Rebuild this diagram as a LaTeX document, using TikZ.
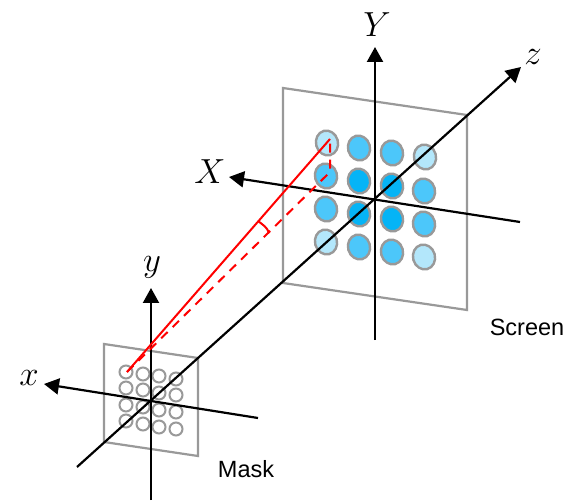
\documentclass[tikz,border=0pt]{standalone}
\usepackage{fontspec}
\setsansfont{Liberation Sans}
\usetikzlibrary{arrows.meta}
\definecolor{dotA}{HTML}{B3E7FB}
\definecolor{dotB}{HTML}{4CC7FA}
\definecolor{dotC}{HTML}{05B4F6}
\definecolor{frameG}{HTML}{999999}
\newcommand{\biglab}[1]{\scalebox{1.4}{$#1$}}
\begin{document}
\begin{tikzpicture}[x=1pt,y=-1pt,
 axis/.style={line width=2.2pt,-{Triangle[length=15pt,width=16pt]}},
 planeedge/.style={draw=frameG,line width=2.2pt},
 dot/.style={draw=frameG,line width=2.4pt},
 maskdot/.style={draw=frameG,line width=2pt,circle,minimum size=13pt,inner sep=0pt},
 ray/.style={red,line width=2pt},
 lab/.style={font=\sffamily\fontsize{23.5}{28}\selectfont},
 mathlab/.style={font=\fontsize{24.88}{30}\selectfont}]
\useasboundingbox (0,0) rectangle (567,502);
\fill[white] (0,0) rectangle (567,502);
% screen
\draw[planeedge] (283,88) -- (467,115) -- (467,310) -- (283,283) -- cycle;
\foreach \x/\y/\c in {327/143/dotA,359/148/dotB,392/153/dotB,425/157/dotA,
326/176/dotB,359/181/dotC,392/186/dotC,424/191/dotB,
326/209/dotB,359/214/dotC,392/219/dotC,424/224/dotB,
326/242/dotA,359/247/dotB,392/252/dotB,424/257/dotA}
  \filldraw[dot,fill=\c,rotate around={15:(\x,\y)}] (\x,\y) ellipse [x radius=11pt,y radius=12.5pt];
% mask
\draw[planeedge] (104,344) -- (198,358) -- (198,456) -- (104,442) -- cycle;
\foreach \x/\y in {126/372,143/374,159/376,176/379,126/388,143/390,159/393,176/395,
126/405,143/407,159/410,176/412,126/421,143/424,159/427,176/429}
  \node[maskdot] at (\x,\y) {};
% axes
\coordinate (Ys) at (375,340); \coordinate (Ye) at (375,47);
\coordinate (Xs) at (520,222); \coordinate (Xe) at (229,177);
\coordinate (zs) at (77,467);  \coordinate (ze) at (521,67);
\coordinate (ys) at (151,500); \coordinate (ye) at (151,288);
\coordinate (xs) at (258,418); \coordinate (xe) at (44,384);
\draw[axis] (Ys) -- (Ye);
\draw[axis] (Xs) -- (Xe);
\draw[axis] (zs) -- (ze);
\draw[axis] (ys) -- (ye);
\draw[axis] (xs) -- (xe);
% rays
\coordinate (m) at (127,372);
\coordinate (t) at (330,139);
\coordinate (b) at (330,172);
\draw[ray] (m) -- (t);
\draw[ray,dash pattern=on 9pt off 7pt,rounded corners=3pt] (m) -- (b) -- (t);
\draw[ray] (258,221) .. controls (263,225) and (267,227) .. (269,233);
% labels
\node[mathlab] (Yl) at (377,25) {\biglab{Y}};
\node[mathlab] (Xl) at (210,172) {\biglab{X}};
\node[mathlab] (zl) at (533,57) {\biglab{z}};
\node[mathlab] (yl) at (152,267) {\biglab{y}};
\node[mathlab] (xl) at (29,378) {\biglab{x}};
\node[lab] (sl) at (527,327) {Screen};
\node[lab] (ml) at (246,469) {Mask};
\end{tikzpicture}
\end{document}
